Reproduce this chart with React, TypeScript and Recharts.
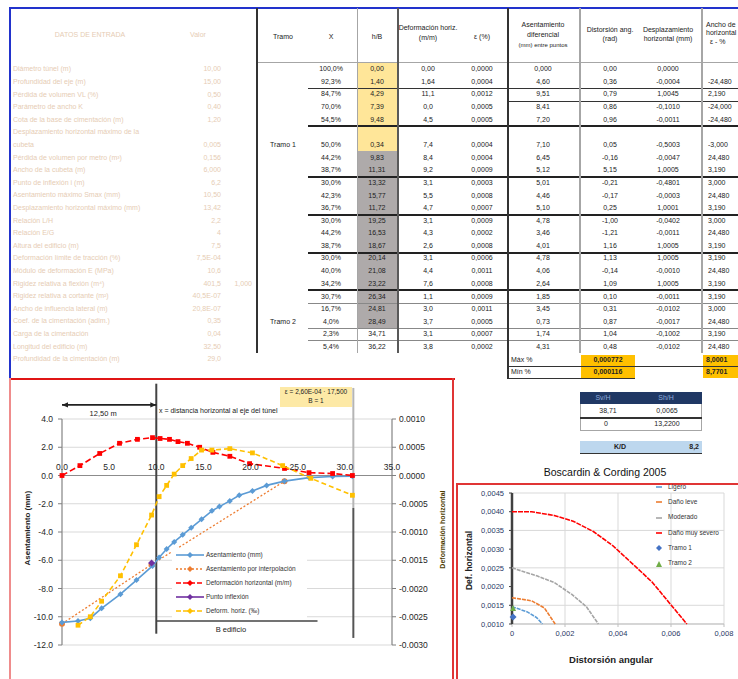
import React from "react";
import {
  ComposedChart,
  Scatter,
  XAxis,
  YAxis,
  CartesianGrid,
  ReferenceLine,
  ReferenceDot,
} from "recharts";

const FONT = '"Liberation Sans", Arial, sans-serif';

// ---------- settlement chart (left) ----------
const xTicksL = [0, 5, 10, 15, 20, 25, 30, 35];
const leftTicks = [-12, -10, -8, -6, -4, -2, 0, 2, 4];
const rightTicks = [-0.003, -0.0025, -0.002, -0.0015, -0.001, -0.0005, 0, 0.0005, 0.001];

const blueX = [0, 1.7, 3.0, 4.2, 6.2, 7.9, 9.6, 10.3, 11.1, 11.9, 12.8, 13.7, 14.8, 15.9, 16.7, 17.8, 18.8, 20.2, 21.7, 23.6, 26.2, 28.7, 30.8];
const blueY = [-10.4, -10.3, -10.1, -9.4, -8.4, -7.4, -6.4, -5.8, -5.2, -4.7, -4.2, -3.7, -3.1, -2.5, -2.2, -1.8, -1.4, -1.1, -0.7, -0.4, -0.15, -0.07, -0.05];
const orangeX = [0, 9.5, 23.6];
const orangeY = [-10.5, -6.3, -0.4];
const redX = [0, 1.9, 4.0, 6.1, 8.0, 9.6, 10.4, 11.4, 12.3, 13.3, 14.6, 16.0, 17.8, 19.9, 23.6, 26.2, 28.7, 30.8];
const redY = [0, 0.000175, 0.00039, 0.00057, 0.00064, 0.00067, 0.000655, 0.00064, 0.0006, 0.00057, 0.0005, 0.00041, 0.00034, 0.00021, 0.000125, 0.00005, 0.000035, 0];
const purpleX = [9.5];
const purpleY = [-6.2];
const yellowX = [1.7, 3.0, 4.2, 6.2, 7.9, 9.5, 10.3, 11.1, 11.9, 12.8, 13.7, 14.8, 15.9, 17.8, 20.2, 23.4, 26.4, 30.8];
const yellowY = [-10.6, -10.0, -8.9, -7.1, -4.9, -2.8, -1.5, -0.7, 0.1, 0.7, 1.2, 1.8, 1.8, 1.9, 1.6, 0.7, -0.2, -1.4];

const legendL = [
  "Asentamiento (mm)",
  "Asentamiento por interpolación",
  "Deformación horizontal (m/m)",
  "Punto inflexión",
  "Deform. horiz. (‰)",
];

// ---------- Boscardin & Cording chart ----------
const bcXTicks = [0, 0.002, 0.004, 0.006, 0.008];
const bcYTicks = [0.001, 0.0015, 0.002, 0.0025, 0.003, 0.0035, 0.004, 0.0045];
const slightX = [0, 0.00056, 0.00093, 0.00115];
const slightY = [0.00146, 0.00133, 0.00117, 0.001];
const leveX = [0, 0.00074, 0.00122, 0.00163];
const leveY = [0.0017, 0.00162, 0.00143, 0.001];
const modX = [0, 0.00096, 0.00159, 0.00226, 0.00281, 0.00326];
const modY = [0.0025, 0.00228, 0.00211, 0.00179, 0.00146, 0.001];
const sevX = [0, 0.00074, 0.00159, 0.00233, 0.00307, 0.00381, 0.00456, 0.00485, 0.0053, 0.00593, 0.0066];
const sevY = [0.004, 0.004, 0.0039, 0.00374, 0.00347, 0.00309, 0.0026, 0.00241, 0.00211, 0.00157, 0.001];
const tramo1X = [0.00004];
const tramo1Y = [0.00119];
const tramo2X = [0.00004];
const tramo2Y = [0.00143];
const legendBC = ["Ligero", "Daño leve", "Moderado", "Daño muy severo", "Tramo 1", "Tramo 2"];

// ---------- spreadsheet text ----------
const inputRows = [
  ["Diámetro túnel (m)", "10,00"],
  ["Profundidad del eje (m)", "15,00"],
  ["Pérdida de volumen VL (%)", "0,50"],
  ["Parámetro de ancho K", "0,40"],
  ["Cota de la base de cimentación (m)", "1,20"],
  ["Desplazamiento horizontal máximo de la", ""],
  ["cubeta", "0,005"],
  ["Pérdida de volumen por metro (m³)", "0,156"],
  ["Ancho de la cubeta (m)", "6,000"],
  ["Punto de inflexión i (m)", "6,2"],
  ["Asentamiento máximo Smax (mm)", "10,50"],
  ["Desplazamiento horizontal máximo (mm)", "13,42"],
  ["Relación L/H", "2,2"],
  ["Relación E/G", "4"],
  ["Altura del edificio (m)", "7,5"],
  ["Deformación límite de tracción (%)", "7,5E-04"],
  ["Módulo de deformación E (MPa)", "10,6"],
  ["Rigidez relativa a flexión (m⁴)", "401,5"],
  ["Rigidez relativa a cortante (m²)", "40,5E-07"],
  ["Ancho de influencia lateral (m)", "20,8E-07"],
  ["Coef. de la cimentación (adim.)", "0,35"],
  ["Carga de la cimentación", "0,04"],
  ["Longitud del edificio (m)", "32,50"],
  ["Profundidad de la cimentación (m)", "29,0"],
];

const rowY = [69, 82, 94, 107, 120, 145, 158, 170, 183, 196, 208, 221, 233, 246, 258, 271, 284, 297, 309, 322, 334, 347];
const colX = ["100,0%", "92,3%", "84,7%", "70,0%", "54,5%", "50,0%", "44,2%", "38,7%", "30,0%", "42,3%", "36,7%", "30,0%", "44,2%", "38,7%", "30,0%", "40,0%", "34,2%", "30,7%", "16,7%", "4,0%", "2,3%", "5,4%"];
const colYH = ["0,00", "1,40", "4,29", "7,39", "9,48", "0,34", "9,83", "11,31", "13,32", "15,77", "11,72", "19,25", "16,53", "18,67", "20,14", "21,08", "23,22", "26,34", "24,81", "28,49", "34,71", "36,22"];
const colD = ["0,00", "1,64", "11,1", "0,0", "4,5", "7,4", "8,4", "9,2", "3,1", "5,5", "4,7", "3,1", "4,3", "2,6", "3,1", "4,4", "7,6", "1,1", "3,0", "3,7", "3,1", "3,8"];
const colE = ["0,0000", "0,0004", "0,0012", "0,0005", "0,0005", "0,0004", "0,0004", "0,0009", "0,0003", "0,0008", "0,0007", "0,0009", "0,0002", "0,0008", "0,0006", "0,0011", "0,0008", "0,0009", "0,0011", "0,0005", "0,0007", "0,0002"];
const colF = ["0,000", "4,60", "9,51", "8,41", "7,20", "7,10", "6,45", "5,12", "5,01", "4,46", "5,10", "4,78", "3,46", "4,01", "4,78", "4,06", "2,64", "1,85", "3,45", "0,73", "1,74", "4,31"];
const colG = ["0,00", "0,36", "0,79", "0,86", "0,96", "0,05", "-0,16", "5,15", "-0,21", "-0,17", "0,25", "-1,00", "-1,21", "1,16", "1,13", "-0,14", "1,09", "0,10", "0,31", "0,87", "1,04", "0,48"];
const colH = ["0,0000", "-0,0004", "1,0045", "-0,1010", "-0,0011", "-0,5003", "-0,0047", "1,0005", "-0,4801", "-0,0003", "1,0001", "-0,0402", "-0,0011", "1,0005", "1,0005", "-0,0010", "1,0005", "-0,0011", "-0,0102", "-0,0017", "-0,1002", "-0,0102"];
const colI = ["", "-24,480", "2,190", "-24,000", "-24,480", "-3,000", "24,480", "3,190", "3,000", "24,480", "3,190", "3,000", "24,480", "3,190", "3,190", "24,480", "3,190", "3,190", "3,000", "24,480", "3,190", "24,480"];

const toPts = (xs: number[], ys: number[]) => xs.map((x, i) => ({ x, y: ys[i] }));

const diamond = (fill: string, r: number) => (p: any) => (
  <path d={`M${p.cx},${p.cy - r}L${p.cx + r},${p.cy}L${p.cx},${p.cy + r}L${p.cx - r},${p.cy}Z`} fill={fill} />
);
const square = (fill: string, r: number) => (p: any) => (
  <rect x={p.cx - r} y={p.cy - r} width={2 * r} height={2 * r} fill={fill} />
);
const dot = (fill: string, r: number) => (p: any) => <circle cx={p.cx} cy={p.cy} r={r} fill={fill} />;
const tri = (fill: string, r: number) => (p: any) => (
  <path d={`M${p.cx},${p.cy - r}L${p.cx + r},${p.cy + r}L${p.cx - r},${p.cy + r}Z`} fill={fill} />
);
const none = () => <g />;

const arrowShape = (label: string, heads: boolean, color: string) => (p: any) => {
  const { x1, y1, x2, y2 } = p;
  return (
    <g>
      <line x1={x1} y1={y1} x2={x2} y2={y2} stroke={color} strokeWidth={1.6} />
      {heads && <path d={`M${x1},${y1}l6,-2.6l0,5.2z`} fill={color} />}
      {heads && <path d={`M${x2},${y2}l-6,-2.6l0,5.2z`} fill={color} />}
      <text x={(x1 + x2) / 2 - 6} y={y1 + 11} fontSize={7.5} textAnchor="middle" fill="#222" fontFamily={FONT}>
        {label}
      </text>
    </g>
  );
};

function Txt({ x, y, children, align = "center", size = 7, color = "#222", weight = 400 }: any) {
  const lh = size * 1.3;
  const base: React.CSSProperties = {
    position: "absolute",
    top: y - lh / 2,
    fontSize: size,
    lineHeight: `${lh}px`,
    color,
    fontWeight: weight,
    whiteSpace: "nowrap",
  };
  if (align === "left") return <div style={{ ...base, left: x }}>{children}</div>;
  if (align === "right") return <div style={{ ...base, left: x - 200, width: 200, textAlign: "right" }}>{children}</div>;
  return <div style={{ ...base, left: x - 150, width: 300, textAlign: "center" }}>{children}</div>;
}

function VText({ cx, cy, children, size = 8, weight = 700, color = "#222" }: any) {
  const lh = size * 1.3;
  return (
    <div
      style={{
        position: "absolute",
        left: cx - 100,
        top: cy - lh / 2,
        width: 200,
        textAlign: "center",
        fontSize: size,
        lineHeight: `${lh}px`,
        fontWeight: weight,
        color,
        whiteSpace: "nowrap",
        transform: "rotate(-90deg)",
      }}
    >
      {children}
    </div>
  );
}

function Box({ l, t, w, h, bg, style }: any) {
  return <div style={{ position: "absolute", left: l, top: t, width: w, height: h, background: bg, ...style }} />;
}

function SettlementChart() {
  return (
    <div style={{ position: "absolute", left: 10, top: 379 }}>
      <ComposedChart width={443} height={300} margin={{ top: 40, right: 0, bottom: 34, left: 0 }}>
        <CartesianGrid yAxisId="left" stroke="#d9d9d9" />
        <XAxis type="number" dataKey="x" domain={[0, 35]} ticks={xTicksL} height={0} tick={false} axisLine={false} tickLine={false} />
        <YAxis
          yAxisId="left"
          type="number"
          dataKey="y"
          domain={[-12, 4]}
          ticks={leftTicks}
          width={52}
          tickFormatter={(v: number) => v.toFixed(1)}
          tick={{ fontSize: 8.5, fill: "#262626", fontFamily: FONT }}
          axisLine={{ stroke: "#7f7f7f" }}
          tickLine={{ stroke: "#7f7f7f" }}
          tickSize={4}
          tickMargin={5}
        />
        <YAxis
          yAxisId="right"
          orientation="right"
          type="number"
          dataKey="y"
          domain={[-0.003, 0.001]}
          ticks={rightTicks}
          width={61}
          tickFormatter={(v: number) => v.toFixed(4)}
          tick={{ fontSize: 8.5, fill: "#262626", fontFamily: FONT }}
          axisLine={{ stroke: "#7f7f7f" }}
          tickLine={{ stroke: "#7f7f7f" }}
          tickSize={4}
          tickMargin={3}
        />
        <ReferenceLine yAxisId="left" y={0} stroke="#8c8c8c" strokeWidth={1.2} />
        <ReferenceLine
          yAxisId="left"
          segment={[{ x: 10, y: 6.5 }, { x: 10, y: -11.2 }]}
          ifOverflow="visible"
          stroke="#444"
          strokeWidth={2}
        />
        <ReferenceLine
          yAxisId="left"
          segment={[{ x: 30.9, y: 6.2 }, { x: 30.9, y: -2.3 }]}
          ifOverflow="visible"
          stroke="#b5b5b5"
          strokeWidth={2}
        />
        <ReferenceLine
          yAxisId="left"
          segment={[{ x: 30.9, y: -2.3 }, { x: 30.9, y: -11.5 }]}
          ifOverflow="visible"
          stroke="#555"
          strokeWidth={2}
        />
        <ReferenceLine
          yAxisId="left"
          segment={[{ x: 0, y: 5.0 }, { x: 10, y: 5.0 }]}
          ifOverflow="visible"
          shape={arrowShape("12,50 m", true, "#222")}
        />
        <ReferenceLine
          yAxisId="left"
          segment={[{ x: 10, y: -10.3 }, { x: 27.1, y: -10.3 }]}
          ifOverflow="visible"
          shape={arrowShape("B edificio", false, "#444")}
        />
        {xTicksL.map((v) => (
          <ReferenceDot
            key={v}
            yAxisId="left"
            x={v}
            y={0}
            r={0.1}
            fill="none"
            stroke="none"
            ifOverflow="visible"
            label={{ value: v.toFixed(1), position: "top", fontSize: 8.5, fill: "#262626", offset: 5 }}
          />
        ))}
        <Scatter
          yAxisId="left"
          data={toPts(orangeX, orangeY)}
          line={{ stroke: "#ed7d31", strokeWidth: 1.3, strokeDasharray: "2 2" }}
          shape={dot("#ed7d31", 3)}
          isAnimationActive={false}
        />
        <Scatter
          yAxisId="left"
          data={toPts(blueX, blueY)}
          line={{ stroke: "#5b9bd5", strokeWidth: 1.6 }}
          shape={diamond("#5b9bd5", 3)}
          isAnimationActive={false}
        />
        <Scatter
          yAxisId="right"
          data={toPts(redX, redY)}
          line={{ stroke: "#ff0000", strokeWidth: 1.6, strokeDasharray: "6 3" }}
          shape={square("#ff0000", 2.4)}
          isAnimationActive={false}
        />
        <Scatter
          yAxisId="left"
          data={toPts(yellowX, yellowY)}
          line={{ stroke: "#ffc000", strokeWidth: 1.6, strokeDasharray: "5 3" }}
          shape={square("#ffc000", 2.4)}
          isAnimationActive={false}
        />
        <Scatter
          yAxisId="left"
          data={toPts(purpleX, purpleY)}
          shape={diamond("#7030a0", 3.5)}
          isAnimationActive={false}
        />
      </ComposedChart>
    </div>
  );
}

function BCChart() {
  const fmtY = (v: number) => v.toFixed(4).replace(".", ",");
  const fmtX = (v: number) => (v === 0 ? "0" : v.toFixed(3).replace(".", ","));
  return (
    <div style={{ position: "absolute", left: 457, top: 485 }}>
      <ComposedChart width={281} height={194} margin={{ top: 8, right: 14, bottom: 35, left: 0 }}>
        <CartesianGrid stroke="#d9d9d9" />
        <XAxis
          type="number"
          dataKey="x"
          domain={[0, 0.008]}
          ticks={bcXTicks}
          height={20}
          tickFormatter={fmtX}
          tick={{ fontSize: 7.5, fill: "#1f3864", fontFamily: FONT }}
          axisLine={{ stroke: "#bfbfbf" }}
          tickLine={{ stroke: "#bfbfbf" }}
          tickSize={3}
          tickMargin={4}
        />
        <YAxis
          type="number"
          dataKey="y"
          domain={[0.001, 0.0045]}
          ticks={bcYTicks}
          width={55}
          tickFormatter={fmtY}
          tick={{ fontSize: 7.5, fill: "#1f3864", fontFamily: FONT }}
          axisLine={{ stroke: "#404040", strokeWidth: 2.5 }}
          tickLine={{ stroke: "#404040" }}
          tickSize={3}
          tickMargin={5}
        />
        <Scatter data={toPts(slightX, slightY)} line={{ stroke: "#5b9bd5", strokeWidth: 1.6, strokeDasharray: "4 1" }} shape={none} isAnimationActive={false} />
        <Scatter data={toPts(leveX, leveY)} line={{ stroke: "#ed7d31", strokeWidth: 1.6, strokeDasharray: "4 1" }} shape={none} isAnimationActive={false} />
        <Scatter data={toPts(modX, modY)} line={{ stroke: "#a5a5a5", strokeWidth: 1.6, strokeDasharray: "4 1" }} shape={none} isAnimationActive={false} />
        <Scatter data={toPts(sevX, sevY)} line={{ stroke: "#ff0000", strokeWidth: 1.6, strokeDasharray: "5 1" }} shape={none} isAnimationActive={false} />
        <Scatter data={toPts(tramo1X, tramo1Y)} shape={diamond("#4472c4", 3.5)} isAnimationActive={false} />
        <Scatter data={toPts(tramo2X, tramo2Y)} shape={tri("#70ad47", 3)} isAnimationActive={false} />
      </ComposedChart>
    </div>
  );
}

export default function App() {
  const faint = "#e6ccb4";
  const cols = [
    { v: colX, x: 331 },
    { v: colD, x: 428 },
    { v: colE, x: 482 },
    { v: colF, x: 543 },
    { v: colG, x: 610 },
    { v: colH, x: 668 },
  ];
  const hLines = [
    { y: 62, x1: 257, x2: 738, c: "#a6a6a6", w: 1 },
    { y: 88, x1: 308, x2: 738, c: "#333", w: 1 },
    { y: 101, x1: 508, x2: 738, c: "#333", w: 1 },
    { y: 126, x1: 308, x2: 738, c: "#222", w: 1.6 },
    { y: 177, x1: 308, x2: 738, c: "#222", w: 1.6 },
    { y: 215, x1: 308, x2: 738, c: "#222", w: 1.6 },
    { y: 253, x1: 308, x2: 738, c: "#222", w: 1.6 },
    { y: 290, x1: 308, x2: 738, c: "#222", w: 1.6 },
    { y: 303, x1: 308, x2: 738, c: "#888", w: 1 },
    { y: 328, x1: 308, x2: 738, c: "#888", w: 1 },
    { y: 340, x1: 308, x2: 738, c: "#888", w: 1 },
    { y: 366, x1: 508, x2: 738, c: "#333", w: 1 },
    { y: 378, x1: 508, x2: 635, c: "#333", w: 1 },
  ];
  const vLines = [
    { x: 257, y1: 8, y2: 353, c: "#333", w: 2 },
    { x: 357, y1: 8, y2: 353, c: "#a6a6a6", w: 1 },
    { x: 398, y1: 8, y2: 353, c: "#595959", w: 2 },
    { x: 508, y1: 8, y2: 379, c: "#333", w: 2 },
    { x: 580, y1: 8, y2: 353, c: "#a6a6a6", w: 1.5 },
    { x: 702, y1: 8, y2: 353, c: "#a6a6a6", w: 1.5 },
  ];
  return (
    <div
      style={{
        position: "absolute",
        left: 0,
        top: 0,
        width: 738,
        height: 679,
        overflow: "hidden",
        background: "#fff",
        fontFamily: FONT,
      }}
    >
      {/* input panel */}
      <Box l={10} t={7} w={728} h={2} bg="#2233cc" />
      <Box l={9} t={7} w={2} h={372} bg="#2233cc" />
      <Txt x={90} y={35} color={faint} size={7}>DATOS DE ENTRADA</Txt>
      <Txt x={198} y={35} color={faint} size={7}>Valor</Txt>
      {inputRows.map((r, i) => (
        <React.Fragment key={i}>
          <Txt x={13} y={69 + i * 12.6} align="left" color={faint}>{r[0]}</Txt>
          <Txt x={221} y={69 + i * 12.6} align="right" color={faint}>{r[1]}</Txt>
        </React.Fragment>
      ))}
      <Txt x={252} y={284} align="right" color={faint}>1,000</Txt>

      {/* results table */}
      <Box l={358} t={63} w={39} h={88} bg="#ffe699" />
      <Box l={358} t={151} w={39} h={177} bg="#aeaaaa" />
      {hLines.map((l, i) => (
        <Box key={"h" + i} l={l.x1} t={l.y - l.w / 2} w={l.x2 - l.x1} h={l.w} bg={l.c} />
      ))}
      {vLines.map((l, i) => (
        <Box key={"v" + i} l={l.x - l.w / 2} t={l.y1} w={l.w} h={l.y2 - l.y1} bg={l.c} />
      ))}
      <Txt x={283} y={37}>Tramo</Txt>
      <Txt x={331} y={37}>X</Txt>
      <Txt x={377} y={37}>h/B</Txt>
      <Txt x={428} y={28}>Deformación horiz.</Txt>
      <Txt x={428} y={38}>(m/m)</Txt>
      <Txt x={482} y={37}>ε (%)</Txt>
      <Txt x={543} y={25}>Asentamiento</Txt>
      <Txt x={543} y={35}>diferencial</Txt>
      <Txt x={543} y={46} size={6}>(mm) entre puntos</Txt>
      <Txt x={610} y={30}>Distorsión ang.</Txt>
      <Txt x={610} y={39}>(rad)</Txt>
      <Txt x={668} y={30}>Desplazamiento</Txt>
      <Txt x={668} y={39}>horizontal (mm)</Txt>
      <Txt x={706} y={25} align="left">Ancho de</Txt>
      <Txt x={706} y={33} align="left">horizontal</Txt>
      <Txt x={710} y={42} align="left">ε - %</Txt>
      <Txt x={283} y={145}>Tramo 1</Txt>
      <Txt x={283} y={322}>Tramo 2</Txt>
      {rowY.map((y, i) => (
        <React.Fragment key={"r" + i}>
          {cols.map((c, j) => (
            <Txt key={j} x={c.x} y={y}>{c.v[i]}</Txt>
          ))}
          <Txt x={377} y={y}>{colYH[i]}</Txt>
          <Txt x={708} y={y} align="left">{colI[i]}</Txt>
        </React.Fragment>
      ))}
      <Txt x={511} y={360} align="left">Máx %</Txt>
      <Txt x={511} y={372} align="left">Mín %</Txt>
      <Box l={581} t={355} w={54} h={11} bg="#ffc000" />
      <Box l={581} t={367} w={54} h={11} bg="#ffc000" />
      <Box l={703} t={355} w={35} h={11} bg="#ffc000" />
      <Box l={703} t={367} w={35} h={11} bg="#ffc000" />
      <Txt x={608} y={360} weight={700}>0,000772</Txt>
      <Txt x={608} y={372} weight={700}>0,000116</Txt>
      <Txt x={706} y={360} align="left" weight={700}>8,0001</Txt>
      <Txt x={706} y={372} align="left" weight={700}>8,7701</Txt>

      {/* small summary table */}
      <Box l={580} t={392} w={122} h={12} bg="#203864" />
      <Txt x={603} y={398} color="#8ea9db">Sv/H</Txt>
      <Txt x={666} y={398} color="#8ea9db">Sh/H</Txt>
      <Box l={580} t={404} w={1} h={27} bg="#a6a6a6" />
      <Box l={701} t={404} w={1} h={27} bg="#a6a6a6" />
      <Box l={580} t={417} w={122} h={1.5} bg="#333" />
      <Box l={580} t={430} w={122} h={1} bg="#a6a6a6" />
      <Txt x={608} y={411}>38,71</Txt>
      <Txt x={667} y={411}>0,0065</Txt>
      <Txt x={606} y={424}>0</Txt>
      <Txt x={667} y={424}>13,2200</Txt>
      <Box l={580} t={441} w={122} h={13} bg="#bdd7ee" style={{ borderBottom: "1.5px solid #333", boxSizing: "border-box" }} />
      <Txt x={620} y={447} weight={700}>K/D</Txt>
      <Txt x={699} y={447} align="right" weight={700}>8,2</Txt>
      <Txt x={605} y={473} size={10.5} color="#111">Boscardin &amp; Cording 2005</Txt>

      {/* settlement chart frame */}
      <Box l={10} t={378} w={445} h={2} bg="#e01515" />
      <Box l={9} t={378} w={2} h={301} bg="#ef8c8c" />
      <Box l={452} t={378} w={2} h={301} bg="#e03535" />
      <SettlementChart />
      <Box l={280} t={387} w={72} h={20} bg="#fde9a6" />
      <Txt x={316} y={392} size={6.5}>ε = 2,60E-04 · 17,500</Txt>
      <Txt x={316} y={401} size={6.5}>B = 1</Txt>
      <Txt x={159} y={411} align="left" size={7}>x = distancia horizontal al eje del túnel</Txt>
      <VText cx={28} cy={528} size={8}>Asentamiento (mm)</VText>
      <VText cx={443} cy={530} size={7} weight={700} color="#4d3d00">Deformación horizontal</VText>
      <div style={{ position: "absolute", left: 172, top: 548, width: 135, height: 70, background: "#fff" }}>
        {legendL.map((t, i) => {
          const colors = ["#5b9bd5", "#ed7d31", "#ff0000", "#7030a0", "#ffc000"];
          const dash = ["", "2 2", "5 2", "", "5 2"];
          return (
            <div key={i} style={{ position: "absolute", left: 0, top: 2 + i * 14, height: 10, width: 135 }}>
              <svg width={28} height={10} style={{ position: "absolute", left: 4, top: 0 }}>
                <line x1={0} y1={5} x2={28} y2={5} stroke={colors[i]} strokeWidth={1.6} strokeDasharray={dash[i]} />
                <path d="M14,2L17,5L14,8L11,5Z" fill={colors[i]} />
              </svg>
              <div style={{ position: "absolute", left: 34, top: 0, fontSize: 6.5, lineHeight: "10px", color: "#333", whiteSpace: "nowrap" }}>{t}</div>
            </div>
          );
        })}
      </div>

      {/* Boscardin & Cording chart */}
      <Box l={456} t={483} w={282} h={2} bg="#e03535" />
      <Box l={456} t={483} w={2} h={196} bg="#e03535" />
      <BCChart />
      <VText cx={470} cy={561} size={8.5}>Def. horizontal</VText>
      <Txt x={611} y={660} size={9.5} weight={700}>Distorsión angular</Txt>
      {legendBC.map((t, i) => {
        const colors = ["#5b9bd5", "#ed7d31", "#a5a5a5", "#ff0000", "#4472c4", "#70ad47"];
        const y = 487 + i * 15.3;
        return (
          <React.Fragment key={"bl" + i}>
            <svg width={10} height={8} style={{ position: "absolute", left: 655, top: y - 4 }}>
              {i < 4 && <line x1={1} y1={4} x2={7} y2={4} stroke={colors[i]} strokeWidth={1.6} />}
              {i === 4 && <path d="M4,1L7,4L4,7L1,4Z" fill={colors[i]} />}
              {i === 5 && <path d="M4,1L7,7L1,7Z" fill={colors[i]} />}
            </svg>
            <Txt x={668} y={y} align="left" size={6.5} color="#333">{t}</Txt>
          </React.Fragment>
        );
      })}
    </div>
  );
}
